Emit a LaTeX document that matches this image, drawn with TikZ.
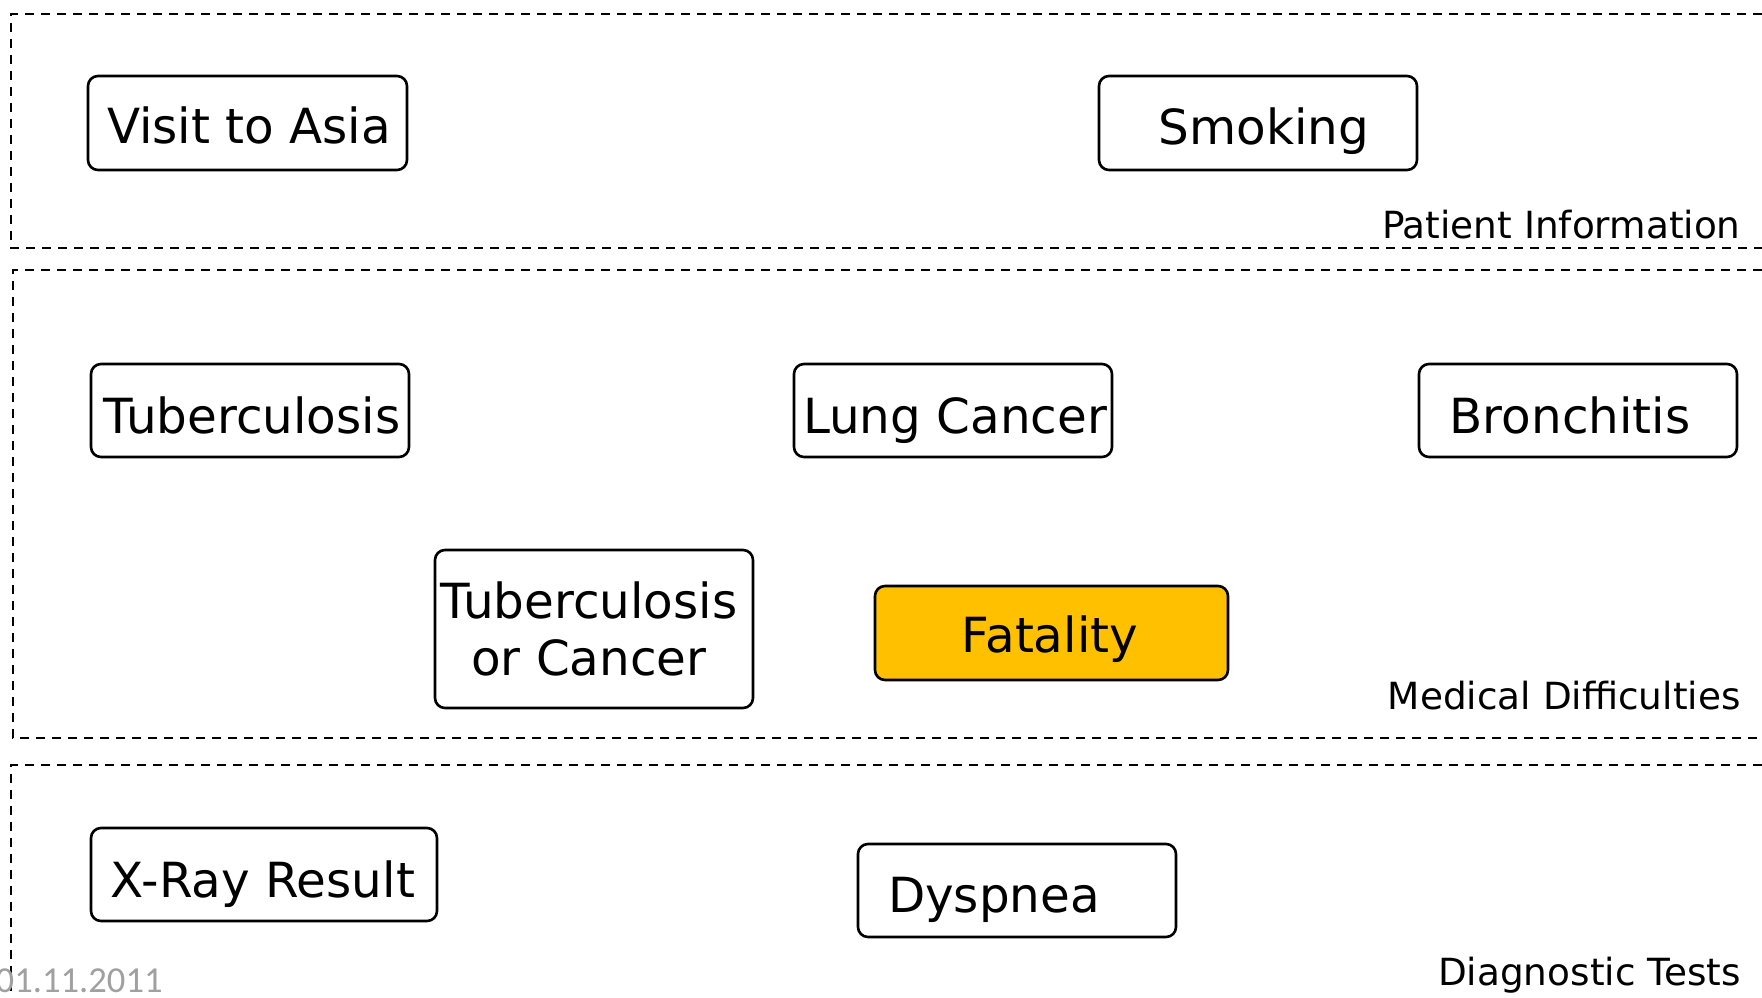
\documentclass[tikz,border=0pt]{standalone}
\usepackage{fontspec}
\setmainfont{DejaVu Sans}
\newfontfamily\datefont{Carlito}
\definecolor{fatal}{RGB}{255,192,0}
\definecolor{dategray}{RGB}{160,160,160}
\begin{document}
\begin{tikzpicture}[x=0.5pt,y=-0.5pt,
 box/.style={draw,line width=1.3pt,rounded corners=5pt,inner sep=0pt},
 txt/.style={inner sep=0pt,anchor=base,font=\fontsize{24.2}{29}\selectfont},
 grp/.style={dash pattern=on 4.5pt off 3.5pt,line width=1.4pt},
 glabel/.style={inner sep=0pt,anchor=base east,font=\fontsize{18.7}{22}\selectfont}]
\useasboundingbox (0,0) rectangle (1762,997);
% group frames
\draw[grp] (1762,14) -- (11,14) -- (11,248) -- (1762,248);
\draw[grp] (1762,270) -- (13,270) -- (13,738) -- (1762,738);
\draw[grp] (1762,765) -- (11,765) -- (11,997);
% boxes
\node[box,minimum width=159.5pt,minimum height=47pt] (asia) at (247.5,123) {};
\node[box,minimum width=159pt,minimum height=47pt] (smoke) at (1258,123) {};
\node[box,minimum width=159pt,minimum height=46.5pt] (tub) at (250,410.5) {};
\node[box,minimum width=159pt,minimum height=46.5pt] (lung) at (953,410.5) {};
\node[box,minimum width=159pt,minimum height=46.5pt] (bron) at (1578,410.5) {};
\node[box,minimum width=159pt,minimum height=79pt] (torc) at (594,629) {};
\node[box,fill=fatal,minimum width=176.5pt,minimum height=47pt] (fatal) at (1051.5,633) {};
\node[box,minimum width=173pt,minimum height=46.5pt] (xray) at (264,874.5) {};
\node[box,minimum width=159pt,minimum height=46.5pt] (dysp) at (1017,890.5) {};
% texts
\node[txt] (asiat) at (249,143) {Visit to Asia};
\node[txt] (smoket) at (1264,144) {Smoking};
\node[txt] (tubt) at (252,433) {Tuberculosis};
\node[txt] (lungt) at (955,433) {Lung Cancer};
\node[txt] (bront) at (1570,433) {Bronchitis};
\node[txt] (torct1) at (589,618) {Tuberculosis};
\node[txt] (torct2) at (589,675) {or Cancer};
\node[txt] (fatalt) at (1050,652) {Fatality};
\node[txt] (xrayt) at (263,897) {X-Ray Result};
\node[txt] (dyspt) at (994,912) {Dyspnea};
% group labels
\node[glabel] (gl1) at (1741,238) {Patient Information};
\node[glabel] (gl2) at (1741,709) {Medical Difficulties};
\node[glabel] (gl3) at (1741,985) {Diagnostic Tests};
% date
\node[inner sep=0pt,anchor=base east,text=dategray,font=\datefont\fontsize{18.3}{22}\selectfont] (date) at (163,992) {01.11.2011};
\end{tikzpicture}
\end{document}
